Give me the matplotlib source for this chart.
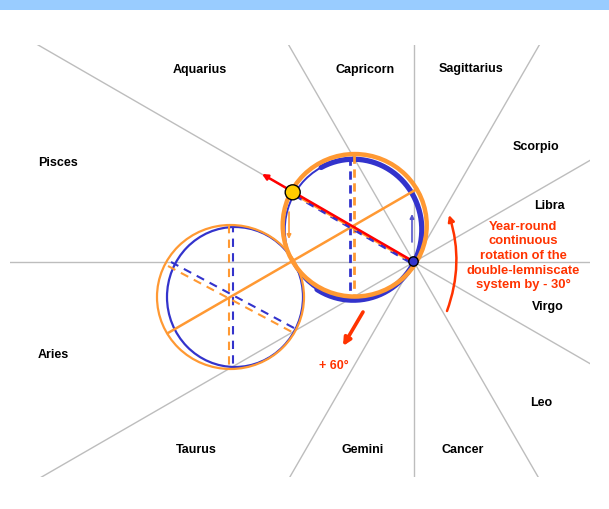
import numpy as np
import matplotlib
matplotlib.use('Agg')
import matplotlib.pyplot as plt
from matplotlib.patches import Ellipse, Circle, Rectangle, FancyArrowPatch

plt.rcParams['font.family'] = ['Liberation Sans', 'DejaVu Sans']

# zodiac labels (pixel positions)
signs = ['Aquarius', 'Capricorn', 'Sagittarius', 'Scorpio', 'Pisces', 'Libra',
         'Virgo', 'Aries', 'Leo', 'Taurus', 'Gemini', 'Cancer']
sign_x = [200, 365, 471, 536, 58, 549, 548, 53, 541, 196, 363, 463]
sign_y = [70, 70, 69, 147, 163, 206, 307, 355, 403, 450, 450, 450]

# sector lines through the centre
center = (414, 262)
ray_angles = [0, 30, 60, 90, 120, 150]
box = (10, 45, 590, 477)  # x0, y0, x1, y1

# circles: (cx, cy, width, height)
upper_orange = (354.7, 225.3, 144, 142.5)
upper_blue = (353.3, 229.7, 137, 141)
lower_orange = (230.5, 297, 147, 144)
lower_blue = (235, 297, 136, 140)
thick_span = (-118, 122)  # degrees of the heavy blue arc (screen coords)

sun = (292.7, 192.3)
dot = (413.5, 261.5)

ORANGE = '#FF9933'
BLUE = '#3333CC'
RED = '#FF3300'
GRAY = '#BDBDBD'

fig = plt.figure(figsize=(6.09, 5.09), dpi=100)
ax = fig.add_axes([0, 0, 1, 1])
ax.set_xlim(0, 609)
ax.set_ylim(509, 0)
ax.axis('off')

# banner at top
ax.add_patch(Rectangle((0, 0), 609, 10, color='#99CCFF', lw=0))

# gray rays
clip = Rectangle((box[0], box[1]), box[2] - box[0], box[3] - box[1],
                 transform=ax.transData, fill=False, lw=0)
for a in ray_angles:
    r = np.radians(a)
    dx, dy = np.cos(r) * 900, -np.sin(r) * 900
    ln, = ax.plot([center[0] - dx, center[0] + dx], [center[1] - dy, center[1] + dy],
                  color=GRAY, lw=1, zorder=1)
    ln.set_clip_path(clip)

# lower circle
cx, cy, w, h = lower_blue
ax.add_patch(Ellipse((cx, cy), w, h, fill=False, ec=BLUE, lw=1.6, zorder=3))
cx, cy, w, h = lower_orange
ax.add_patch(Ellipse((cx, cy), w, h, fill=False, ec=ORANGE, lw=1.6, zorder=4))
ax.plot([233, 233], [224, 367], color=BLUE, lw=1.5, ls=(0, (4, 3)), zorder=3)
ax.plot([229, 229], [225, 369], color=ORANGE, lw=1.5, ls=(0, (4, 3)), zorder=3)
ax.plot([171, 294], [262, 328], color=BLUE, lw=1.5, ls=(0, (4, 3)), zorder=3)
ax.plot([168, 292], [266, 332], color=ORANGE, lw=1.5, ls=(0, (4, 3)), zorder=3)

# upper circle
cx, cy, w, h = upper_blue
ax.add_patch(Ellipse((cx, cy), w, h, fill=False, ec=BLUE, lw=1.4, zorder=3))
t = np.radians(np.linspace(thick_span[0], thick_span[1], 200))
ax.plot(cx + w / 2 * np.cos(t), cy + h / 2 * np.sin(t), color=BLUE, lw=3.8,
        solid_capstyle='round', zorder=3)
cx, cy, w, h = upper_orange
ax.add_patch(Ellipse((cx, cy), w, h, fill=False, ec=ORANGE, lw=3.2, zorder=4))
ax.plot([350, 350], [157, 300], color=BLUE, lw=2, ls=(0, (3, 2)), zorder=3)
ax.plot([354, 354], [155, 297], color=ORANGE, lw=2, ls=(0, (3, 2)), zorder=3)

# orange diameter line linking both circles
ax.plot([168, 417], [333, 189], color=ORANGE, lw=1.8, zorder=4)

# dashed diameter under the red line
ax.plot([sun[0] + 2, dot[0] - 2], [sun[1] + 3, dot[1] + 1.5], color=BLUE, lw=2,
        ls=(0, (3, 2)), zorder=5)
ax.plot([sun[0] + 2, dot[0] - 2], [sun[1] + 2, dot[1]], color=ORANGE, lw=2,
        ls=(2, (3, 2)), zorder=5)

# red arrow out of the sun
ax.add_patch(FancyArrowPatch(dot, (262, 174), arrowstyle='-|>', mutation_scale=8,
                             color='#FF0000', lw=1.8, shrinkA=0, shrinkB=0, zorder=6))

# small arrows inside the upper circle
ax.add_patch(FancyArrowPatch((289, 212), (289, 239), arrowstyle='-|>', mutation_scale=6,
                             color=ORANGE, lw=1.2, shrinkA=0, shrinkB=0, zorder=5))
ax.add_patch(FancyArrowPatch((412, 242), (412, 214), arrowstyle='-|>', mutation_scale=6,
                             color='#5555CC', lw=1.2, shrinkA=0, shrinkB=0, zorder=5))

# sun and dot
ax.add_patch(Circle(sun, 7.5, fc='#FFCC00', ec='black', lw=1, zorder=7))
ax.add_patch(Circle(dot, 4.7, fc=BLUE, ec='black', lw=1, zorder=7))

# rotation arc and +60 arrow
ax.add_patch(FancyArrowPatch((447, 311), (449, 215), connectionstyle='arc3,rad=0.17',
                             arrowstyle='-|>', mutation_scale=9, color=RED, lw=1.8,
                             shrinkA=0, shrinkB=0, zorder=6))
ax.add_patch(FancyArrowPatch((363, 312), (343, 346), arrowstyle='-|>', mutation_scale=11,
                             color=RED, lw=2.6, shrinkA=0, shrinkB=0, zorder=6))

for s, x, y in zip(signs, sign_x, sign_y):
    ax.text(x, y, s, ha='center', va='center', fontsize=9, fontweight='bold', color='black')

ax.text(523, 256, 'Year-round\ncontinuous\nrotation of the\ndouble-lemniscate\nsystem by - 30°',
        ha='center', va='center', fontsize=9.4, fontweight='bold', color=RED, linespacing=1.3)
ax.text(334, 366, '+ 60°', ha='center', va='center', fontsize=9, fontweight='bold', color=RED)

fig.savefig('out.png', dpi=100)
